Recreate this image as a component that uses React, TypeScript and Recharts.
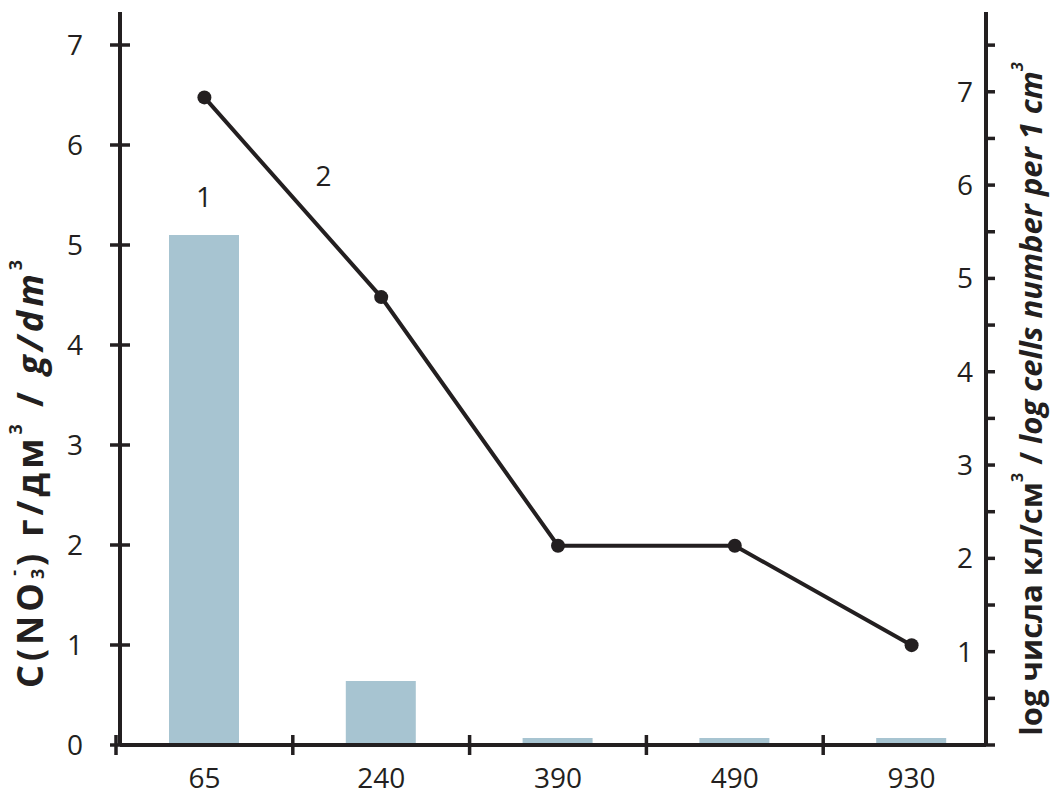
import { ComposedChart, Bar, Line, XAxis, YAxis, LabelList } from "recharts"

const categories = ["65", "240", "390", "490", "930"]
const nitrate = [5.1, 0.64, 0.07, 0.07, 0.07]
const logCells = [6.94, 4.8, 2.135, 2.135, 1.07]
const leftTicks = [0, 1, 2, 3, 4, 5, 6, 7]
const rightTicks = [0, 0.5, 1, 1.5, 2, 2.5, 3, 3.5, 4, 4.5, 5, 5.5, 6, 6.5, 7, 7.5]

const INK = "#231f20"
const BAR = "#a7c4d1"
const FONT = "'Open Sans', 'Noto Sans', sans-serif"

const data = categories.map((c, i) => ({ depth: c, nitrate: nitrate[i], cells: logCells[i] }))

// left ticks cross the axis, labels sit well to the left
function LeftTick(props: any) {
  const { x, y, payload } = props
  return (
    <g>
      <line x1={x + 27} x2={x + 47} y1={y} y2={y} stroke={INK} strokeWidth={3.5} />
      <text x={x} y={y} dy="0.36em" textAnchor="end" fontSize={28} fill={INK} fontFamily={FONT}>
        {payload.value}
      </text>
    </g>
  )
}

// right axis: short outward ticks, labels drawn inside the plot
function RightTick(props: any) {
  const { x, y, payload } = props
  const axisX = x - 9
  const major = Number.isInteger(payload.value) && payload.value > 0
  return (
    <g>
      <line x1={axisX} x2={axisX + 9} y1={y} y2={y} stroke={INK} strokeWidth={3.5} />
      {major && (
        <text x={axisX - 13} y={y} dy="0.36em" textAnchor="end" fontSize={28} fill={INK} fontFamily={FONT}>
          {payload.value}
        </text>
      )}
    </g>
  )
}

// x ticks at band boundaries, crossing the axis
function BottomTick(props: any) {
  const { x, y, payload } = props
  const axisY = y - 10
  const half = payload.offset ?? 88
  return (
    <g>
      <line x1={x - half} x2={x - half} y1={axisY - 10} y2={axisY + 10} stroke={INK} strokeWidth={3.5} />
      <text x={x} y={axisY + 43} textAnchor="middle" fontSize={28} fill={INK} fontFamily={FONT}>
        {payload.value}
      </text>
    </g>
  )
}

function LeftTitle(props: any) {
  const vb = props.viewBox
  const cx = vb.x + 29
  const cy = vb.y + 462
  return (
    <text
      x={cx}
      y={cy}
      transform={`rotate(-90, ${cx}, ${cy})`}
      textAnchor="middle"
      dominantBaseline="central"
      fontSize={36}
      fontWeight={700}
      fill={INK}
      fontFamily={FONT}
      textLength={428}
      lengthAdjust="spacing"
    >
      C(NO
      <tspan dy={8} fontSize={18}>3</tspan>
      <tspan dx={-11} dy={-24} fontSize={18}>-</tspan>
      <tspan dy={16}>) г/дм</tspan>
      <tspan dy={-14} fontSize={18}>3</tspan>
      <tspan dy={14}> / </tspan>
      <tspan fontStyle="italic">g/dm</tspan>
      <tspan dy={-14} fontSize={18}>3</tspan>
    </text>
  )
}

function RightTitle(props: any) {
  const vb = props.viewBox
  const cx = vb.x + 44
  const cy = vb.y + 387
  return (
    <text
      x={cx}
      y={cy}
      transform={`rotate(-90, ${cx}, ${cy})`}
      textAnchor="middle"
      dominantBaseline="central"
      fontSize={31}
      fontWeight={700}
      fill={INK}
      fontFamily={FONT}
    >
      log числа кл/см
      <tspan dy={-13} fontSize={16}>3</tspan>
      <tspan dy={13}> / </tspan>
      <tspan fontStyle="italic">log cells number per 1 cm</tspan>
      <tspan dy={-13} fontSize={16} fontStyle="italic">3</tspan>
    </text>
  )
}

// annotation "1" above the first bar
function BarNote(props: any) {
  const { x, y, width, index } = props
  if (index !== 0) return null
  return (
    <text x={x + width / 2} y={y - 28} textAnchor="middle" fontSize={28} fill={INK} fontFamily={FONT}>
      1
    </text>
  )
}

// annotation "2" beside the first line segment
function LineNote(props: any) {
  const { x, y, index } = props
  if (index !== 0) return null
  return (
    <text x={x + 119} y={y + 89} textAnchor="middle" fontSize={28} fill={INK} fontFamily={FONT}>
      2
    </text>
  )
}

export default function App() {
  return (
    <div style={{ position: "absolute", left: 0, top: 0, width: 1051, height: 790, background: "#fff" }}>
      <ComposedChart width={1051} height={790} data={data} margin={{ top: 12, right: 0, bottom: 0, left: 0 }}>
        <XAxis
          dataKey="depth"
          height={45}
          padding={{ left: -4, right: -14 }}
          axisLine={{ stroke: INK, strokeWidth: 4 }}
          tickLine={false}
          tickSize={10}
          tickMargin={0}
          tick={<BottomTick />}
          interval={0}
        />
        <YAxis
          yAxisId="left"
          width={120}
          domain={[0, 7.33]}
          ticks={leftTicks}
          allowDataOverflow
          axisLine={{ stroke: INK, strokeWidth: 4 }}
          tickLine={false}
          tickSize={10}
          tickMargin={27}
          tick={<LeftTick />}
          interval={0}
          label={{ content: (p: any) => <LeftTitle viewBox={p.viewBox} /> }}
        />
        <YAxis
          yAxisId="right"
          orientation="right"
          width={65}
          domain={[0, 7.855]}
          ticks={rightTicks}
          allowDataOverflow
          axisLine={{ stroke: INK, strokeWidth: 4 }}
          tickLine={false}
          tickSize={9}
          tickMargin={0}
          tick={<RightTick />}
          interval={0}
          label={{ content: (p: any) => <RightTitle viewBox={p.viewBox} /> }}
        />
        <Bar yAxisId="left" dataKey="nitrate" fill={BAR} barSize={70} isAnimationActive={false}>
          <LabelList dataKey="nitrate" content={<BarNote />} />
        </Bar>
        <Line
          yAxisId="right"
          dataKey="cells"
          type="linear"
          stroke={INK}
          strokeWidth={4}
          dot={{ r: 7, fill: INK, stroke: INK, strokeWidth: 0 }}
          isAnimationActive={false}
        >
          <LabelList dataKey="cells" content={<LineNote />} />
        </Line>
      </ComposedChart>
    </div>
  )
}
